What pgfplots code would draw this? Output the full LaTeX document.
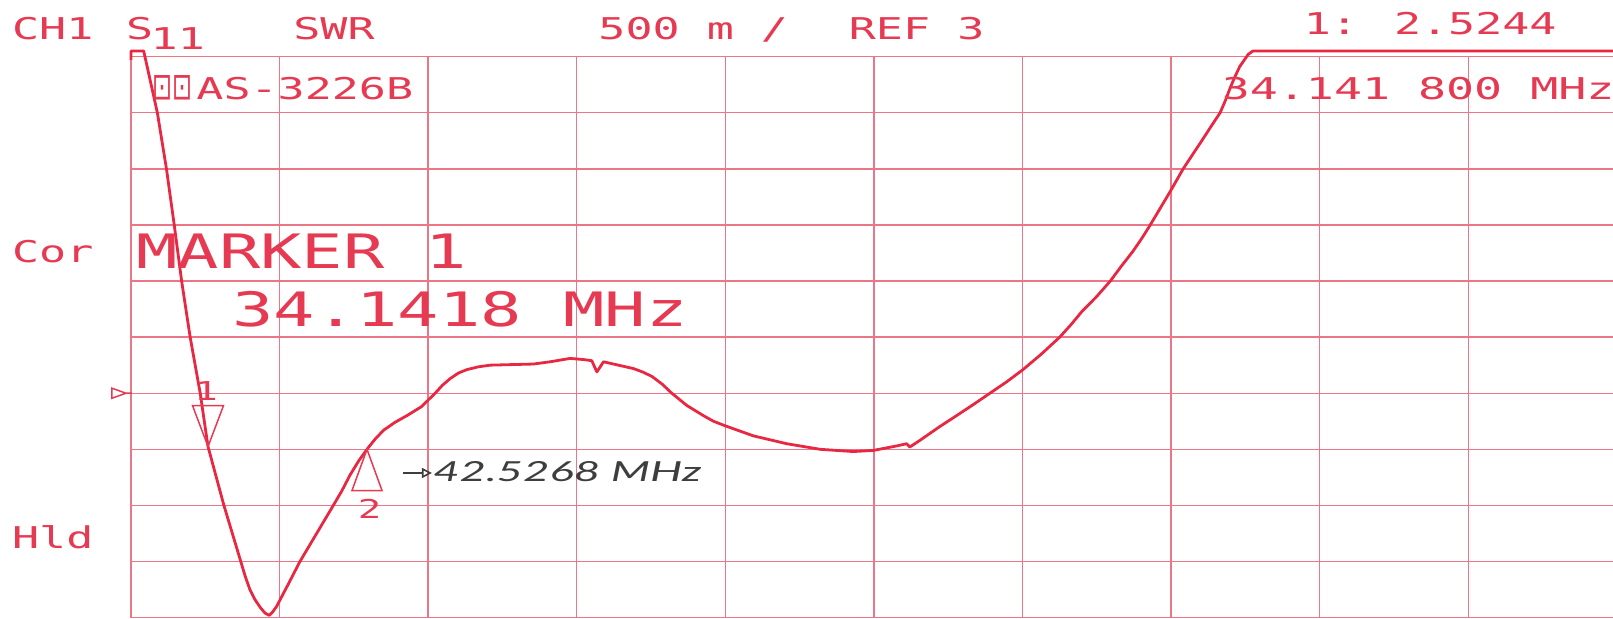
\documentclass[border=0pt]{standalone}
\usepackage{pgfplots}
\pgfplotsset{compat=1.18}
\usepackage{graphicx}
\usepackage{fontspec}
\usetikzlibrary{arrows.meta}
\newfontfamily\plotfont[FakeStretch=1.5]{DejaVu Sans Mono}
\newfontfamily\bigplotfont[FakeStretch=1.45]{DejaVu Sans Mono}
\newfontfamily\symfont{DejaVu Sans}
\newfontfamily\handfont{Lato}
\definecolor{tracered}{RGB}{232,40,66}
\definecolor{gridred}{RGB}{236,118,134}
\definecolor{textred}{RGB}{230,58,82}
\definecolor{pen}{RGB}{62,62,62}
\pgfdeclareplotmark{tipdown}{%
  \pgfpathmoveto{\pgfqpoint{0pt}{0pt}}%
  \pgfpathlineto{\pgfqpoint{-7.75pt}{20.5pt}}%
  \pgfpathlineto{\pgfqpoint{7.75pt}{20.5pt}}%
  \pgfpathclose\pgfusepathqstroke}
\pgfdeclareplotmark{tipup}{%
  \pgfpathmoveto{\pgfqpoint{0pt}{0pt}}%
  \pgfpathlineto{\pgfqpoint{-7.5pt}{-20.6pt}}%
  \pgfpathlineto{\pgfqpoint{7.5pt}{-20.6pt}}%
  \pgfpathclose\pgfusepathqstroke}
\pgfdeclareplotmark{refmark}{%
  \pgfpathmoveto{\pgfqpoint{0pt}{0pt}}%
  \pgfpathlineto{\pgfqpoint{-7pt}{2.5pt}}%
  \pgfpathlineto{\pgfqpoint{-7pt}{-2.5pt}}%
  \pgfpathclose
  \pgfpathmoveto{\pgfqpoint{0pt}{0pt}}%
  \pgfpathlineto{\pgfqpoint{3pt}{0pt}}%
  \pgfusepathqstroke}
\tikzset{
  txt/.style={inner sep=0pt, anchor=base west, text=textred, font=\plotfont\fontsize{15pt}{15pt}\selectfont},
  bigtxt/.style={inner sep=0pt, anchor=base west, text=textred, font=\bigplotfont\fontsize{23.7pt}{23.7pt}\selectfont},
}
\begin{document}
\begin{tikzpicture}
\path[use as bounding box] (-65.5pt,-0.2pt) rectangle (741pt,308.8pt);
\begin{axis}[
  at={(0pt,0pt)}, anchor=south west,
  scale only axis, width=743pt, height=280.5pt,
  xmin=30.08, xmax=108.45, ymin=1, ymax=6,
  xtick={30.08,37.917,45.754,53.591,61.428,69.265,77.102,84.939,92.776,100.613,108.45},
  ytick={1,1.5,2,2.5,3,3.5,4,4.5,5,5.5,6},
  xticklabels={}, yticklabels={},
  major tick length=0pt,
  grid=major, grid style={gridred, line width=0.7pt},
  axis line style={gridred, line width=0.7pt},
  clip=false,
]
% SWR trace (frequency in MHz, SWR)
\addplot[tracered, line width=1.4pt, line join=round] coordinates {
(30.08,5.97) (30.08,6.05) (30.75,6.05) (31.47,5.5) (31.95,5.0) (32.36,4.5)
(32.75,4.0) (33.20,3.5) (33.73,3.0) (34.1418,2.5244) (34.98,2.0) (35.87,1.5)
(36.10,1.37) (36.35,1.25) (36.62,1.16) (36.90,1.09) (37.15,1.04) (37.37,1.02)
(37.55,1.05) (37.76,1.10) (38.35,1.29) (38.99,1.5) (40.75,2.0) (41.20,2.13)
(41.63,2.27) (42.10,2.40) (42.5268,2.5) (42.95,2.59) (43.40,2.67) (44.00,2.74)
(44.63,2.80) (45.40,2.88) (46.12,3.0) (46.50,3.07) (46.91,3.13) (47.35,3.18)
(47.79,3.21) (48.40,3.235) (49.02,3.25) (51.30,3.26) (52.18,3.28) (53.24,3.31)
(53.94,3.30) (54.38,3.29) (54.65,3.19) (55.00,3.28) (56.57,3.22) (57.05,3.19)
(57.55,3.15) (58.10,3.08) (58.60,3.0) (59.40,2.89) (60.27,2.80) (60.80,2.75)
(61.41,2.71) (62.90,2.62) (64.66,2.55) (66.42,2.50) (68.17,2.48) (69.23,2.49)
(70.46,2.53) (70.99,2.55) (71.15,2.52) (71.69,2.58) (72.71,2.70) (73.80,2.82)
(74.60,2.91) (75.38,3.0) (76.25,3.10) (77.12,3.21) (78.10,3.35) (79.06,3.5)
(79.65,3.61) (80.24,3.73) (81.00,3.86) (81.73,4.0) (82.30,4.13) (82.90,4.26)
(83.35,4.37) (83.80,4.49) (84.33,4.64) (84.86,4.79) (85.20,4.89) (85.57,5.0)
(86.08,5.13) (86.59,5.26) (87.05,5.38) (87.52,5.5) (87.80,5.61) (88.07,5.73)
(88.30,5.82) (88.55,5.91) (89.00,6.02) (89.25,6.05) (108.6,6.05)
};
% markers
\addplot[only marks, mark=tipdown, draw=textred, line width=0.75pt] coordinates {(34.1418,2.5244)};
\addplot[only marks, mark=tipup, draw=textred, line width=0.75pt] coordinates {(42.5268,2.5)};
\addplot[only marks, mark=refmark, draw=textred, line width=0.75pt] coordinates {(29.816,3)};
% header texts
\node[txt] at (axis cs:23.79,6.15) {CH1};
\node[txt] at (axis cs:29.80,6.15) {S};
\node[txt] at (axis cs:31.10,6.065) {11};
\node[txt] at (axis cs:38.62,6.15) {SWR};
\node[txt] at (axis cs:54.71,6.15) {500 m /};
\node[txt] at (axis cs:67.92,6.15) {REF 3};
\node[txt] at (axis cs:91.91,6.2) {1: 2.5244};
\node[txt] at (axis cs:87.59,5.619) {\scalebox{1.035}[1]{34.141 800 MHz}};
\node[inner sep=0pt, anchor=base west, text=textred] at (axis cs:31.18,5.619) {\resizebox{20pt}{12pt}{\symfont ⊡⊡}};
\node[txt] at (axis cs:33.51,5.619) {AS-3226B};
\node[txt] at (axis cs:23.79,4.169) {Cor};
\node[txt] at (axis cs:23.79,1.614) {Hld};
\node[bigtxt] at (axis cs:30.34,4.109) {MARKER 1};
\node[bigtxt] at (axis cs:35.41,3.598) {34.1418 MHz};
\node[txt, anchor=base, font=\plotfont\fontsize{13pt}{13pt}\selectfont] at (axis cs:34.035,2.939) {1};
\node[txt, anchor=base, font=\plotfont\fontsize{13pt}{13pt}\selectfont] at (axis cs:42.67,1.881) {2};
% handwritten note
\draw[pen, line width=0.8pt, -{Triangle[open, length=5pt, width=5pt]}] (axis cs:44.43,2.289) -- (axis cs:45.95,2.289);
\node[inner sep=0pt, anchor=base west, text=pen] at (axis cs:46.0,2.211) {\resizebox{134pt}{10pt}{\handfont\itshape 42.5268 MHz}};
\end{axis}
\end{tikzpicture}
\end{document}
